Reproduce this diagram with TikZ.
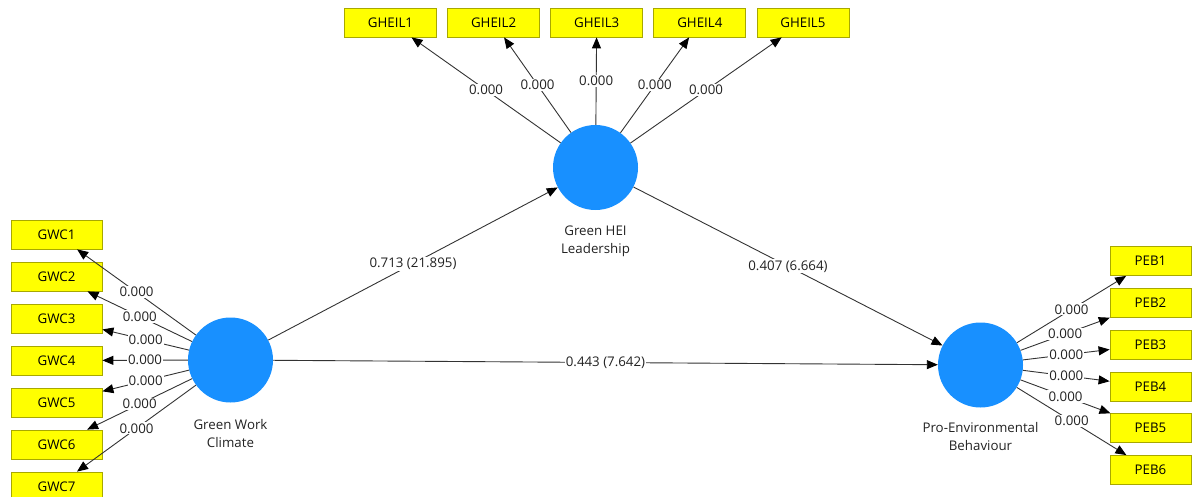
\documentclass[tikz,border=0pt]{standalone}
\usepackage{fontspec}
\setmainfont{Open Sans}
\usetikzlibrary{arrows.meta}
\definecolor{lvblue}{HTML}{1890FF}
\definecolor{indyellow}{HTML}{FFFF00}
\definecolor{indborder}{HTML}{A8A800}
\definecolor{pathgray}{HTML}{333333}
\definecolor{txtgray}{HTML}{222222}
\tikzset{
  latent/.style={circle, fill=lvblue, minimum size=85pt, inner sep=0pt},
  indicator/.style={rectangle, fill=indyellow, draw=indborder, line width=0.8pt,
    minimum height=29pt, inner sep=0pt, text=black,
    font=\fontsize{13.3}{15}\selectfont},
  gwcbox/.style={indicator, minimum width=91pt},
  gheilbox/.style={indicator, minimum width=92pt},
  pebbox/.style={indicator, minimum width=81pt},
  lvname/.style={align=center, text=txtgray, font=\fontsize{13.3}{17.5}\selectfont},
  coef/.style={fill=white, inner sep=1.2pt, text=txtgray,
    font=\fontsize{13.3}{15}\selectfont},
  pathline/.style={draw=pathgray, line width=0.9pt,
    -{Triangle[length=11pt,width=9pt,color=black,fill=black]}},
}
\begin{document}
\begin{tikzpicture}[x=1pt,y=-1pt]
\useasboundingbox (0,0) rectangle (1193,497);
\clip (0,0) rectangle (1193,497);

% latent variables
\node[latent] (gwc) at (230.5,360) {};
\node[latent] (hei) at (595.5,167.5) {};
\node[latent] (peb) at (980.5,365) {};
\node[lvname] (gwcname) at (230.5,433.5) {Green Work\\Climate};
\node[lvname] (heiname) at (595.5,241.5) {Green HEI\\Leadership};
\node[lvname] (pebname) at (980.5,436.5) {Pro-Environmental\\Behaviour};

% Green Work Climate indicators
\foreach \i in {1,...,7} {
  \node[gwcbox] (GWC\i) at (56.5,{234.5+42*(\i-1)}) {GWC\i};
}
% Green HEI Leadership indicators
\foreach \i in {1,...,5} {
  \node[gheilbox] (GHEIL\i) at ({390.5+103.1*(\i-1)},22.5) {GHEIL\i};
}
% Pro-Environmental Behaviour indicators
\foreach \i in {1,...,6} {
  \node[pebbox] (PEB\i) at (1150.5,{261+41.8*(\i-1)}) {PEB\i};
}

% outer loadings
\foreach \i in {1,...,7} {
  \draw[pathline] (gwc) -- node[coef] {0.000} (GWC\i);
}
\foreach \i in {1,...,5} {
  \draw[pathline] (hei) -- node[coef] {0.000} (GHEIL\i);
}
\foreach \i in {1,...,6} {
  \draw[pathline] (peb) -- node[coef] {0.000} (PEB\i);
}

% structural paths
\draw[pathline] (gwc) -- node[coef] {0.713 (21.895)} (hei);
\draw[pathline] (hei) -- node[coef] {0.407 (6.664)} (peb);
\draw[pathline] (gwc) -- node[coef] {0.443 (7.642)} (peb);
\end{tikzpicture}
\end{document}
